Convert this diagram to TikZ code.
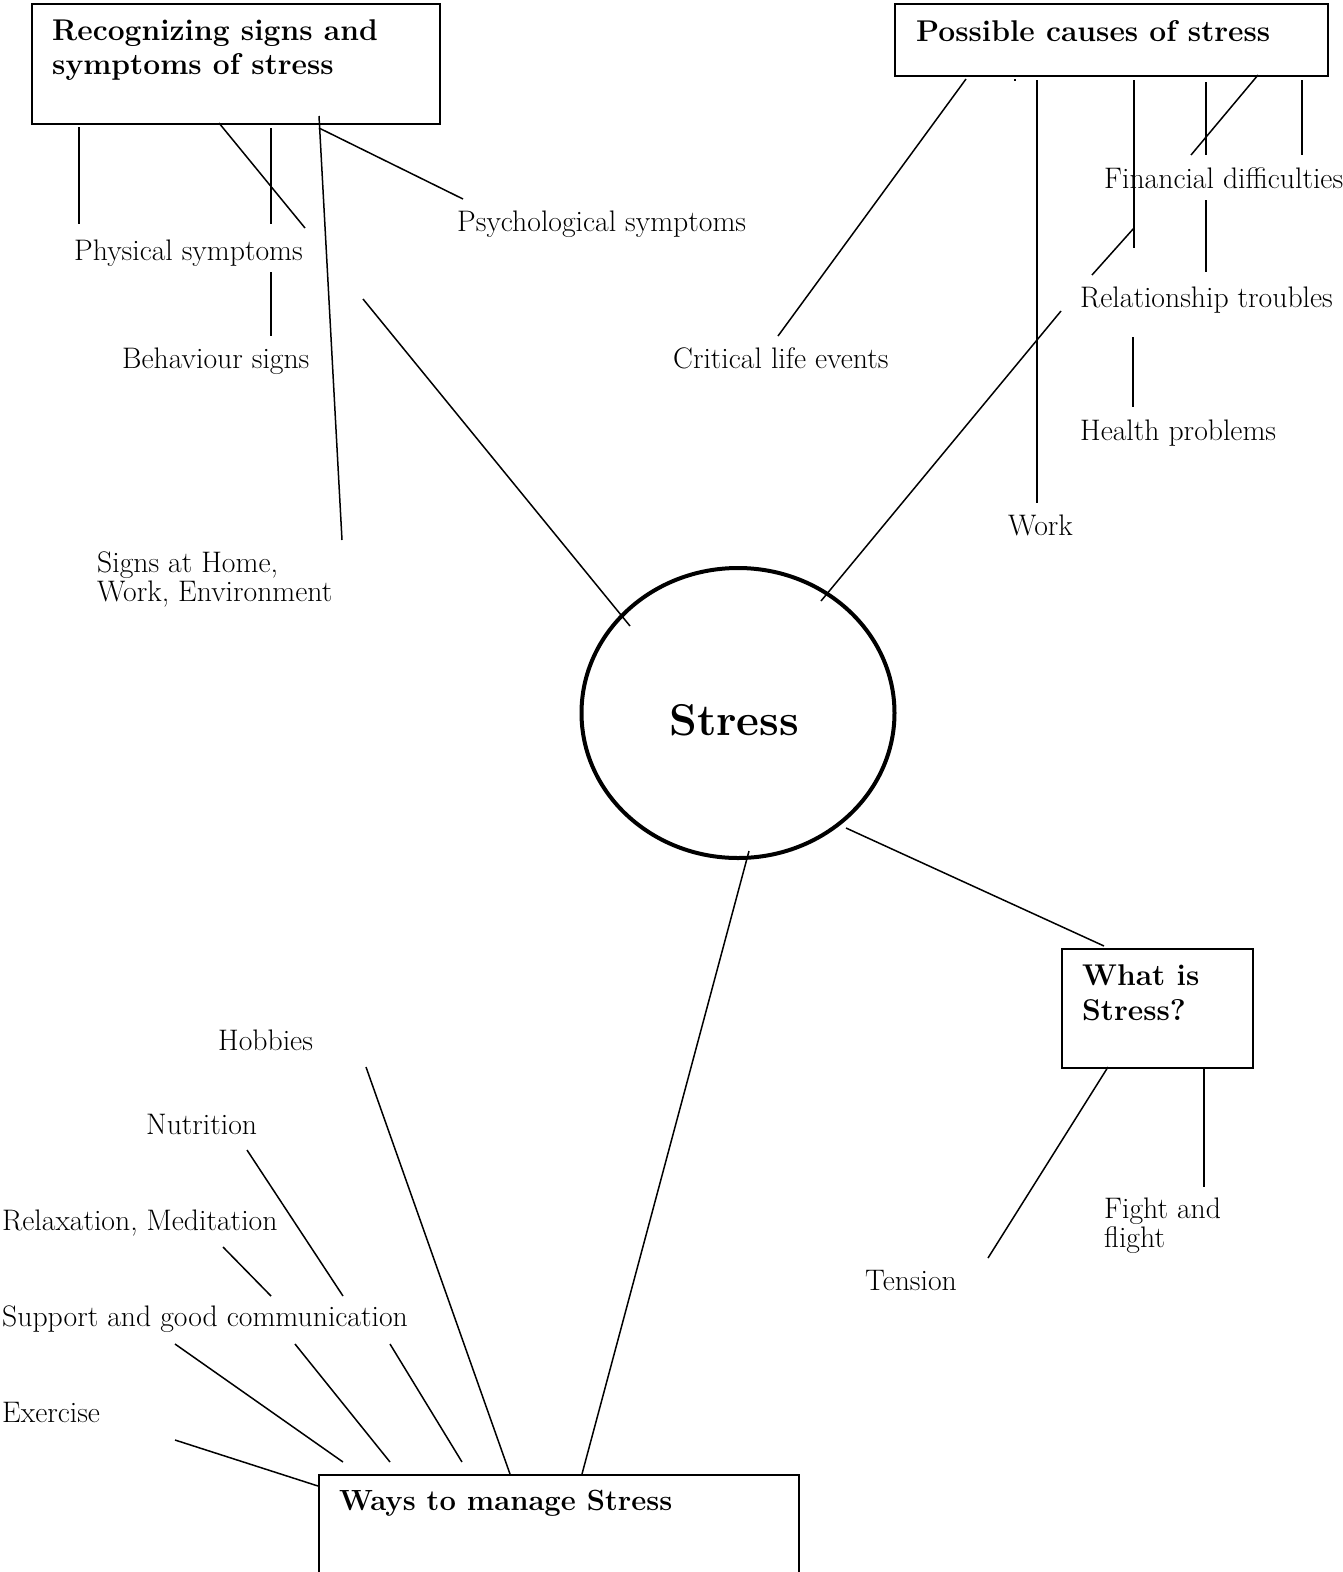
\documentclass[tikz,border=0pt]{standalone}
\usepackage{fontspec}
\usetikzlibrary{shapes.geometric}
\begin{document}
\begin{tikzpicture}[x=1pt,y=-1pt,
  lbl/.style={font=\fontsize{29.7}{32}\selectfont, anchor=base west, inner sep=0pt},
  ttl/.style={font=\fontsize{30}{34}\selectfont\bfseries, anchor=base west, inner sep=0pt},
  bx/.style={draw, line width=2pt, anchor=north west, inner sep=0pt},
  ln/.style={line width=1.5pt}]
\useasboundingbox (0,0) rectangle (1342,1572);
% boxes
\node[bx, minimum width=408pt, minimum height=120pt] (recbox) at (31,3) {};
\node[bx, minimum width=433pt, minimum height=72pt] (causebox) at (894,3) {};
\node[bx, minimum width=191pt, minimum height=119pt] (whatbox) at (1061,948) {};
\node[bx, minimum width=480pt, minimum height=140pt] (waysbox) at (318,1474) {};
\node[draw, ellipse, line width=4pt, minimum width=313pt, minimum height=290pt, inner sep=0pt] (stress) at (738,713) {};
% titles
\node[ttl] (rec1) at (52,40) {Recognizing signs and};
\node[ttl] (rec2) at (52,74) {symptoms of stress};
\node[ttl] (cause) at (916,41) {Possible causes of stress};
\node[ttl] (what1) at (1082,985) {What is};
\node[ttl] (what2) at (1082,1020) {Stress?};
\node[ttl, font=\fontsize{29.2}{33}\selectfont\bfseries] (ways) at (339,1510) {Ways to manage Stress};
\node[font=\fontsize{44.5}{48}\selectfont\bfseries, anchor=base west, inner sep=0pt] (stresslbl) at (669,735) {Stress};
% labels
\node[lbl] (phys) at (74,260) {Physical symptoms};
\node[lbl] (behav) at (122,368) {Behaviour signs};
\node[lbl] (psych) at (457,231) {Psychological symptoms};
\node[lbl] (signs1) at (97,572) {Signs at Home,};
\node[lbl] (signs2) at (97,601) {Work, Environment};
\node[lbl] (fin) at (1104,188) {Financial difficulties};
\node[lbl] (rel) at (1080,307) {Relationship troubles};
\node[lbl] (crit) at (673,368) {Critical life events};
\node[lbl] (health) at (1080,440) {Health problems};
\node[lbl] (work) at (1008,535) {Work};
\node[lbl] (fight1) at (1104,1218) {Fight and};
\node[lbl] (fight2) at (1104,1247) {flight};
\node[lbl] (tension) at (865,1290) {Tension};
\node[lbl] (hob) at (218,1050) {Hobbies};
\node[lbl] (nut) at (146,1134) {Nutrition};
\node[lbl] (relax) at (2,1230) {Relaxation, Meditation};
\node[lbl] (supp) at (2,1326) {Support and good communication};
\node[lbl] (exer) at (2,1422) {Exercise};
% connector end points
\coordinate (a1) at (79,127);   \coordinate (a2) at (79,224);
\coordinate (b1) at (219,123);  \coordinate (b2) at (305,228);
\coordinate (c1) at (271,128);  \coordinate (c2) at (271,224);
\coordinate (d1) at (271,272);  \coordinate (d2) at (271,336);
\coordinate (e1) at (319,116);  \coordinate (e2) at (342,540);
\coordinate (f1) at (319,128);  \coordinate (f2) at (463,199);
\coordinate (g1) at (363,299);  \coordinate (g2) at (630,626);
\coordinate (h1) at (966,79);   \coordinate (h2) at (778,336);
\coordinate (i1) at (1015,79);  \coordinate (i2) at (1015,81);
\coordinate (j1) at (1037,80);  \coordinate (j2) at (1037,503);
\coordinate (k1) at (1134,80);  \coordinate (k2) at (1134,248);
\coordinate (l1) at (1134,228); \coordinate (l2) at (1092,275);
\coordinate (m1) at (1206,82);  \coordinate (m2) at (1206,155);
\coordinate (n1) at (1258,75);  \coordinate (n2) at (1191,155);
\coordinate (o1) at (1302,80);  \coordinate (o2) at (1302,155);
\coordinate (p1) at (1206,200); \coordinate (p2) at (1206,272);
\coordinate (q1) at (1133,337); \coordinate (q2) at (1133,407);
\coordinate (r1) at (1061,311); \coordinate (r2) at (821,601);
\coordinate (s1) at (846,828);  \coordinate (s2) at (1104,946);
\coordinate (t1) at (1108,1067);\coordinate (t2) at (988,1258);
\coordinate (u1) at (1204,1067);\coordinate (u2) at (1204,1187);
\coordinate (v1) at (749,851);  \coordinate (v2) at (582,1474);
\coordinate (w1) at (366,1067); \coordinate (w2) at (510,1474);
\coordinate (x1) at (247,1150); \coordinate (x2) at (343,1296);
\coordinate (y1) at (223,1247); \coordinate (y2) at (271,1296);
\coordinate (z1) at (175,1344); \coordinate (z2) at (343,1462);
\coordinate (aa1) at (295,1344);\coordinate (aa2) at (390,1462);
\coordinate (bb1) at (390,1344);\coordinate (bb2) at (462,1462);
\coordinate (cc1) at (175,1440);\coordinate (cc2) at (318,1486);
% connectors
\foreach \p in {a,b,c,d,e,f,g,h,i,j,k,l,m,n,o,p,q,r,s,t,u,v,w,x,y,z,aa,bb,cc}
  \draw[ln] (\p1) -- (\p2);
\end{tikzpicture}
\end{document}
